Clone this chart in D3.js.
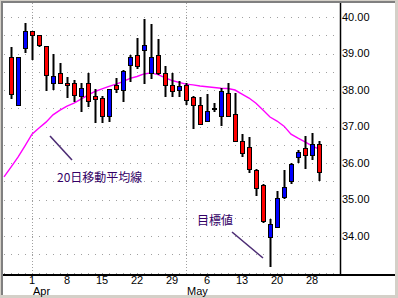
<!DOCTYPE html>
<html>
<head>
<meta charset="utf-8">
<script src="https://cdn.jsdelivr.net/npm/d3@7"></script>
<style>
  body { margin: 0; background: #fff; }
  svg { display: block; }
  text { font-family: "Liberation Sans", Arial, sans-serif; font-size: 11px; }
</style>
</head>
<body>
<div id="chart"></div>
<script>
// one slot per trading day, Mar 25 - May 29 2002 (Mar 25 only carries the average)
const dates = [
  '3/25', '3/26', '3/27', '3/28',
  '4/1', '4/2', '4/3', '4/4', '4/5',
  '4/8', '4/9', '4/10', '4/11', '4/12',
  '4/15', '4/16', '4/17', '4/18', '4/19',
  '4/22', '4/23', '4/24', '4/25', '4/26',
  '4/29', '4/30', '5/1', '5/2', '5/3',
  '5/6', '5/7', '5/8', '5/9', '5/10',
  '5/13', '5/14', '5/15', '5/16', '5/17',
  '5/20', '5/21', '5/22', '5/23', '5/24',
  '5/28', '5/29'
];

// candles start at dates[1]
const firstCandle = 1;
const opens = [38.90, 37.58, 39.14, 39.61, 39.50, 39.20, 38.18, 38.46, 38.18, 38.18, 37.83, 38.18, 37.83, 37.77, 37.28,
  38.13, 37.99, 38.68, 38.95, 39.09, 38.48, 38.95, 38.48, 38.13, 37.99, 38.13, 37.80, 37.58, 37.14, 37.50,
  37.28, 37.91, 37.33, 36.59, 36.43, 35.81, 35.40, 33.98, 34.24, 35.08, 35.52, 36.17, 36.40, 36.22, 36.51];
const highs = [39.19, 38.90, 39.83, 39.63, 39.50, 39.20, 38.99, 38.74, 38.36, 38.27, 38.18, 38.47, 38.02, 37.83, 38.03,
  38.32, 38.55, 38.96, 39.42, 39.94, 39.80, 39.39, 38.65, 38.46, 38.24, 38.18, 37.83, 37.80, 37.88, 37.64,
  38.05, 38.18, 37.91, 36.79, 36.70, 35.85, 35.42, 34.48, 35.23, 35.81, 35.99, 36.36, 36.74, 36.83, 36.60];
const lows = [37.76, 37.58, 39.02, 38.82, 39.17, 37.98, 38.00, 38.17, 37.79, 37.66, 37.41, 37.54, 37.10, 37.09, 37.13,
  37.91, 37.66, 38.21, 38.58, 38.16, 38.29, 38.40, 37.80, 37.80, 37.80, 37.58, 36.94, 37.03, 37.12, 37.39,
  37.01, 37.25, 36.58, 36.17, 35.72, 35.10, 34.36, 33.16, 34.22, 35.01, 35.42, 35.99, 35.85, 36.08, 35.52];
const closes = [37.88, 38.90, 39.61, 39.50, 39.22, 38.42, 38.38, 38.18, 38.15, 37.85, 38.05, 37.69, 37.76, 37.28, 38.02,
  38.02, 38.51, 38.90, 38.65, 39.22, 38.90, 38.48, 38.13, 37.96, 38.10, 37.72, 37.58, 37.06, 37.42, 37.50,
  37.96, 37.28, 36.59, 36.27, 35.85, 35.31, 34.41, 34.33, 35.03, 35.34, 35.96, 36.29, 36.22, 36.51, 35.75];

// 20-day moving average, one value per slot in dates
const ma20 = [35.62, 35.89, 36.16, 36.47, 36.79, 36.96, 37.12, 37.32, 37.45, 37.56, 37.64, 37.75, 37.86, 37.96, 38.03,
  38.10, 38.16, 38.23, 38.32, 38.37, 38.44, 38.47, 38.42, 38.34, 38.26, 38.21, 38.16, 38.14, 38.11, 38.09,
  38.07, 38.05, 38.04, 38.00, 37.89, 37.78, 37.64, 37.45, 37.26, 37.15, 37.01, 36.79, 36.68, 36.58, 36.47, 36.38];

const yTicks = [34, 35, 36, 37, 38, 39, 40];
const gridLevels = [33, 33.5, 34, 34.5, 35, 35.5, 36, 36.5, 37, 37.5, 38, 38.5, 39, 39.5, 40];
const tickDates = ['4/1', '4/8', '4/15', '4/22', '4/29', '5/6', '5/13', '5/20', '5/28'];
const tickLabels = ['1', '8', '15', '22', '29', '6', '13', '20', '28'];
const monthDates = ['4/1', '5/1'];
const monthLabels = ['Apr', 'May'];

const W = 398, H = 298;
const plotLeft = 3, plotTop = 3, plotRight = 340, plotBottom = 274;

const svg = d3.select('#chart').append('svg').attr('width', W).attr('height', H);

// sunken window frame
svg.append('rect').attr('width', W).attr('height', H).attr('fill', '#d4d0c8');
svg.append('rect').attr('x', 1).attr('y', 1).attr('width', 394).attr('height', 294).attr('fill', '#808080');
svg.append('rect').attr('x', 3).attr('y', 3).attr('width', 392).attr('height', 292).attr('fill', '#fff');

const x = d3.scaleLinear().domain([-1 / 7, 48]).range([plotLeft, plotRight]);
const y = d3.scaleLinear().domain([32.96, 40.384]).range([plotBottom, plotTop]);
const px = i => Math.round(x(i));

// dotted grid
svg.append('g').selectAll('line').data(gridLevels).enter().append('line')
  .attr('x1', 4).attr('x2', plotRight)
  .attr('y1', d => Math.round(y(d)) + 0.5).attr('y2', d => Math.round(y(d)) + 0.5)
  .attr('stroke', '#a0a0a0').attr('stroke-dasharray', '1,6');

svg.append('g').selectAll('line').data(monthDates).enter().append('line')
  .attr('x1', d => px(dates.indexOf(d)) + 0.5).attr('x2', d => px(dates.indexOf(d)) + 0.5)
  .attr('y1', plotTop).attr('y2', plotBottom)
  .attr('stroke', '#a0a0a0').attr('stroke-dasharray', '1,2');

// moving average
const line = d3.line().x((d, i) => x(i)).y(d => y(d));
svg.append('path').attr('d', line(ma20))
  .attr('fill', 'none').attr('stroke', '#ff00ff').attr('stroke-width', 1.4);

// candles
const candles = svg.append('g').selectAll('g').data(opens).enter().append('g');
candles.append('line')
  .attr('x1', (d, k) => px(k + firstCandle) + 0.5).attr('x2', (d, k) => px(k + firstCandle) + 0.5)
  .attr('y1', (d, k) => Math.round(y(highs[k]))).attr('y2', (d, k) => Math.round(y(lows[k])))
  .attr('stroke', '#000').attr('stroke-width', 2);
candles.append('rect')
  .attr('x', (d, k) => px(k + firstCandle) - 1.5)
  .attr('y', (d, k) => Math.round(y(Math.max(d, closes[k]))) + 0.5)
  .attr('width', 4)
  .attr('height', (d, k) => Math.max(1, Math.round(y(Math.min(d, closes[k]))) - Math.round(y(Math.max(d, closes[k])))))
  .attr('fill', (d, k) => closes[k] > d ? '#0000ff' : '#ff0000')
  .attr('stroke', '#000').attr('stroke-width', 1);

// axes
svg.append('line').attr('x1', plotRight + 0.5).attr('x2', plotRight + 0.5).attr('y1', plotTop).attr('y2', plotBottom)
  .attr('stroke', '#000').attr('stroke-width', 1.5);
svg.append('line').attr('x1', plotLeft).attr('x2', 395).attr('y1', plotBottom + 1).attr('y2', plotBottom + 1)
  .attr('stroke', '#000').attr('stroke-width', 2);

svg.append('g').selectAll('text').data(yTicks).enter().append('text')
  .attr('x', plotRight + 2).attr('y', d => y(d)).attr('dy', '0.35em')
  .text(d => d.toFixed(2));

svg.append('g').selectAll('text').data(tickDates).enter().append('text')
  .attr('x', d => x(dates.indexOf(d))).attr('y', 284).attr('text-anchor', 'middle')
  .text((d, i) => tickLabels[i]);

svg.append('g').selectAll('text').data(monthDates).enter().append('text')
  .attr('x', d => px(dates.indexOf(d)) + 1).attr('y', 294.5)
  .text((d, i) => monthLabels[i]);

// annotations
const noteFont = '"Noto Sans CJK JP", sans-serif';
svg.append('text').attr('x', 57).attr('y', 181.5).attr('fill', '#330066')
  .style('font-family', noteFont).style('font-size', '12px').text('20日移動平均線');
svg.append('text').attr('x', 197).attr('y', 225).attr('fill', '#330066')
  .style('font-family', noteFont).style('font-size', '12px').text('目標値');

svg.append('line').attr('x1', 50).attr('y1', 136).attr('x2', 72).attr('y2', 160)
  .attr('stroke', '#4c2c74').attr('stroke-width', 1.6);
svg.append('line').attr('x1', 232).attr('y1', 232).attr('x2', 263).attr('y2', 258)
  .attr('stroke', '#4c2c74').attr('stroke-width', 1.6);
</script>
</body>
</html>
